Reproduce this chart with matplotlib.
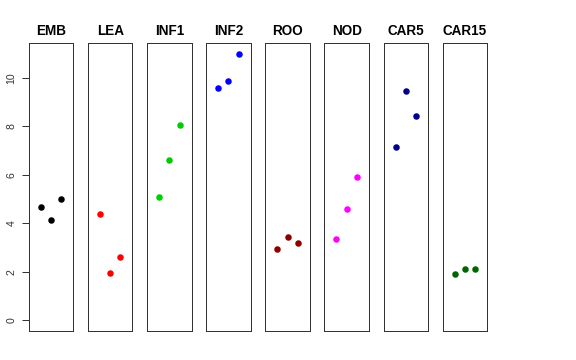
import matplotlib
matplotlib.use("Agg")
import matplotlib.pyplot as plt

categories = ["EMB", "LEA", "INF1", "INF2", "ROO", "NOD", "CAR5", "CAR15"]
colors = ["#000000", "#FF0000", "#00CD00", "#0000FF", "#8B0000", "#FF00FF", "#00008B", "#006400"]
values = {
    "EMB":   [4.68, 4.13, 5.00],
    "LEA":   [4.37, 1.95, 2.60],
    "INF1":  [5.07, 6.61, 8.04],
    "INF2":  [9.58, 9.88, 11.00],
    "ROO":   [2.95, 3.45, 3.19],
    "NOD":   [3.34, 4.58, 5.92],
    "CAR5":  [7.17, 9.44, 8.42],
    "CAR15": [1.91, 2.11, 2.11],
}
reps = [1, 2, 3]
yticks = [0, 2, 4, 6, 8, 10]

W, H = 576, 360
fig = plt.figure(figsize=(W / 72, H / 72), dpi=72)
plt.rcParams['font.family'] = ['Liberation Sans', 'DejaVu Sans']

left0 = 28.7
pw = 44.6
step = 59.15
top = 43.0
bottom = 331.0

for i, cat in enumerate(categories):
    x0 = left0 + i * step
    ax = fig.add_axes([x0 / W, (H - bottom) / H, pw / W, (bottom - top) / H])
    ax.plot(reps, values[cat], 'o', color=colors[i], ms=6.5, mec='none')
    ax.set_xlim(-0.16, 4.16)
    ax.set_ylim(-0.44, 11.44)
    ax.set_xticks([])
    for s in ax.spines.values():
        s.set_linewidth(1.0)
        s.set_color('#333333')
    ax.set_title(cat, fontsize=13.5, fontweight='bold', pad=8)
    if i == 0:
        ax.set_yticks(yticks)
        ax.set_yticklabels([str(t) for t in yticks], rotation=90, va='center', fontsize=10.5)
        ax.tick_params(axis='y', length=7, width=1, pad=5, colors='#333333', labelcolor='#333333')
    else:
        ax.set_yticks([])

fig.savefig("out.png", dpi=72)
